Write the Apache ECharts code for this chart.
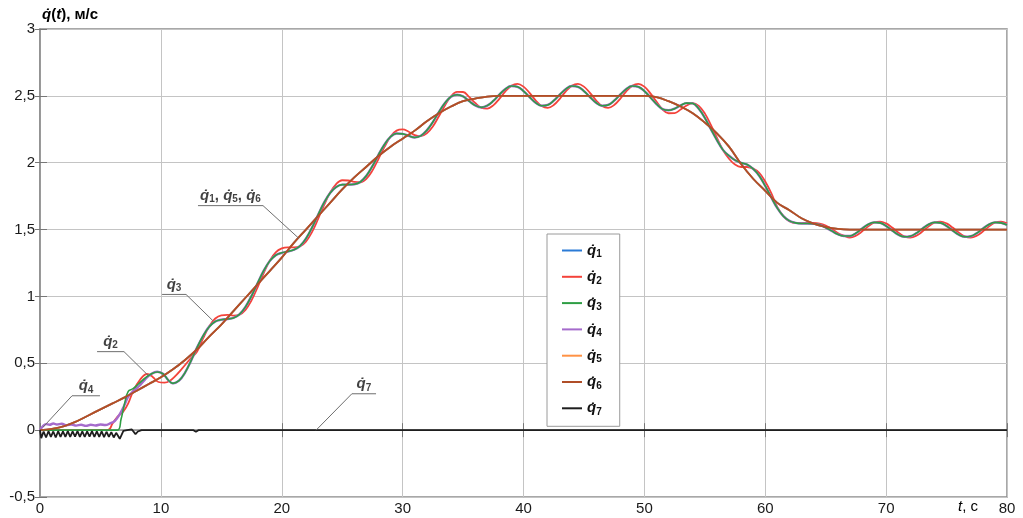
<!DOCTYPE html>
<html><head><meta charset="utf-8">
<script src="https://cdn.jsdelivr.net/npm/echarts@6/dist/echarts.min.js"></script>
<style>html,body{margin:0;padding:0;background:#fff}#c{width:1023px;height:518px}</style>
</head><body><div id="c"></div>
<script>
// ---- data (t in s, q̇ in m/s) ----
const seriesNames = ['q1','q2','q3','q4','q5','q6','q7'];
const seriesColors = ['#2b7bd6','#f4433a','#2e9e44','#a56bcc','#ff9245','#b04e28','#1e1e1e'];

// smooth reference profile q̇6 (q̇1 and q̇5 coincide with it, per the annotation)
const q6 = [[0,0],[1,0.01],[2,0.03],[3,0.065],[4,0.11],[5,0.155],[6,0.2],[7,0.245],[8,0.295],[9,0.345],[10,0.395],[11,0.455],[12,0.525],[13,0.605],[14,0.7],[15,0.79],[16,0.89],[17,0.99],[18,1.09],[19,1.19],[20,1.29],[21,1.4],[22,1.5],[23,1.6],[24,1.7],[25,1.8],[26,1.89],[27,1.97],[28,2.05],[29,2.12],[30,2.18],[31,2.24],[32,2.31],[33,2.37],[34,2.42],[35,2.46],[36,2.48],[37,2.495],[38,2.5],[50,2.5],[51,2.49],[52,2.46],[53,2.42],[54,2.37],[55,2.3],[56,2.22],[57,2.12],[58,1.99],[59,1.88],[60,1.79],[61,1.7],[62,1.645],[63,1.585],[64,1.545],[65,1.52],[66,1.505],[67,1.5],[80,1.5]];
const q1 = q6;
const q5 = q6;

// oscillating response shared by q̇3 and q̇4 after the start-up
const oscTail = [[10.2,0.42],[10.6,0.375],[11,0.35],[11.5,0.37],[12,0.43],[12.5,0.52],[13,0.619],[13.5,0.706],[14,0.774],[14.5,0.813],[15,0.826],[15.5,0.831],[16,0.839],[16.5,0.866],[17,0.922],[17.5,1.004],[18,1.099],[18.5,1.191],[19,1.264],[19.5,1.308],[20,1.326],[20.5,1.336],[21,1.349],[21.5,1.376],[22,1.432],[22.5,1.514],[23,1.609],[23.5,1.701],[24,1.774],[24.5,1.818],[25,1.836],[25.5,1.836],[26,1.839],[26.5,1.856],[27,1.902],[27.5,1.974],[28,2.059],[28.5,2.136],[29,2.194],[29.5,2.218],[30,2.216],[30.5,2.201],[31,2.189],[31.5,2.201],[32,2.242],[32.5,2.304],[33,2.379],[33.5,2.446],[34,2.494],[34.5,2.508],[35,2.496],[35.5,2.461],[36,2.429],[36.5,2.414],[37,2.427],[37.5,2.462],[38,2.509],[38.5,2.551],[39,2.574],[39.5,2.568],[40,2.536],[40.5,2.491],[41,2.449],[41.5,2.426],[42,2.432],[42.5,2.464],[43,2.509],[43.5,2.551],[44,2.574],[44.5,2.568],[45,2.536],[45.5,2.491],[46,2.449],[46.5,2.426],[47,2.432],[47.5,2.464],[48,2.509],[48.5,2.551],[49,2.574],[49.5,2.568],[50,2.536],[50.5,2.488],[51,2.439],[51.5,2.401],[52,2.392],[52.5,2.404],[53,2.429],[53.5,2.446],[54,2.444],[54.5,2.403],[55,2.336],[55.5,2.251],[56,2.169],[56.5,2.096],[57,2.052],[57.5,2.019],[58,1.999],[58.5,1.986],[59,1.954],[59.5,1.903],[60,1.826],[60.5,1.741],[61,1.66],[61.5,1.6],[62,1.565],[62.5,1.55],[63,1.545],[63.5,1.545],[64,1.543],[64.5,1.535],[65,1.515],[65.5,1.49],[66,1.465],[66.5,1.452],[67,1.452],[67.5,1.473],[68,1.507],[68.5,1.538],[69,1.554],[69.5,1.55],[70,1.527],[70.5,1.493],[71,1.462],[71.5,1.446],[72,1.45],[72.5,1.473],[73,1.507],[73.5,1.538],[74,1.554],[74.5,1.55],[75,1.527],[75.5,1.493],[76,1.462],[76.5,1.446],[77,1.45],[77.5,1.473],[78,1.507],[78.5,1.538],[79,1.554],[79.5,1.55],[80,1.535]];
const q3Head = [[0,0],[6.4,0],[6.7,0.08],[7.0,0.2],[7.3,0.29],[7.7,0.31],[8.2,0.35],[8.7,0.39],[9.2,0.42],[9.7,0.435]];
const q4Head = [[0,0],[0.25,0.03],[0.5,0.045],[0.8,0.04],[1.1,0.05],[1.4,0.042],[1.8,0.048],[2.2,0.036],[2.6,0.042],[3.0,0.034],[3.4,0.04],[3.8,0.032],[4.2,0.04],[4.6,0.035],[5.0,0.042],[5.4,0.038],[5.8,0.05],[6.2,0.07],[6.6,0.12],[7.0,0.19],[7.3,0.25],[7.7,0.29],[8.2,0.33],[8.7,0.38],[9.2,0.42],[9.7,0.437]];
const q3 = q3Head.concat(oscTail);
const q4 = q4Head.concat(oscTail);

const q2 = [[0,0],[5.6,0],[6.0,0.05],[6.4,0.1],[6.9,0.14],[7.3,0.2],[7.7,0.29],[8.3,0.38],[8.85,0.42],[9.3,0.4],[9.8,0.36],[10.3,0.355],[10.75,0.37],[11.25,0.41],[11.75,0.46],[12.4,0.53],[13,0.588],[13.5,0.688],[14,0.776],[14.5,0.835],[15,0.859],[15.5,0.862],[16,0.857],[16.5,0.864],[17,0.9],[17.5,0.971],[18,1.068],[18.5,1.173],[19,1.266],[19.5,1.33],[20,1.359],[20.5,1.367],[21,1.367],[21.5,1.374],[22,1.41],[22.5,1.481],[23,1.578],[23.5,1.683],[24,1.776],[24.5,1.84],[25,1.869],[25.5,1.867],[26,1.857],[26.5,1.854],[27,1.88],[27.5,1.941],[28,2.028],[28.5,2.118],[29,2.196],[29.5,2.24],[30,2.249],[30.5,2.232],[31,2.207],[31.5,2.199],[32,2.22],[32.5,2.271],[33,2.348],[33.5,2.428],[34,2.496],[34.5,2.53],[35,2.529],[35.5,2.492],[36,2.447],[36.5,2.412],[37,2.405],[37.5,2.429],[38,2.478],[38.5,2.533],[39,2.576],[39.5,2.59],[40,2.569],[40.5,2.522],[41,2.467],[41.5,2.424],[42,2.41],[42.5,2.431],[43,2.478],[43.5,2.533],[44,2.576],[44.5,2.59],[45,2.569],[45.5,2.522],[46,2.467],[46.5,2.424],[47,2.41],[47.5,2.431],[48,2.478],[48.5,2.533],[49,2.576],[49.5,2.59],[50,2.569],[50.5,2.519],[51,2.457],[51.5,2.399],[52,2.37],[52.5,2.371],[53,2.398],[53.5,2.428],[54,2.446],[54.5,2.425],[55,2.369],[55.5,2.282],[56,2.187],[56.5,2.094],[57,2.03],[57.5,1.986],[58,1.968],[58.5,1.968],[59,1.956],[59.5,1.925],[60,1.859],[60.5,1.772],[61,1.667],[61.5,1.6],[62,1.562],[62.5,1.548],[63,1.548],[63.5,1.55],[64,1.55],[64.5,1.545],[65,1.53],[65.5,1.505],[66,1.475],[66.5,1.455],[67,1.44],[67.5,1.454],[68,1.485],[68.5,1.522],[69,1.551],[69.5,1.56],[70,1.546],[70.5,1.515],[71,1.478],[71.5,1.449],[72,1.44],[72.5,1.454],[73,1.485],[73.5,1.522],[74,1.551],[74.5,1.56],[75,1.546],[75.5,1.515],[76,1.478],[76.5,1.449],[77,1.44],[77.5,1.454],[78,1.485],[78.5,1.522],[79,1.551],[79.5,1.56],[80,1.546]];

const q7 = [[0,0],[0.1,-0.06],[0.3,-0.01],[0.5,-0.055],[0.7,-0.008],[0.9,-0.05],[1.1,-0.01],[1.3,-0.055],[1.5,-0.008],[1.7,-0.05],[1.9,-0.01],[2.1,-0.05],[2.3,-0.008],[2.5,-0.05],[2.7,-0.01],[2.9,-0.048],[3.1,-0.008],[3.3,-0.05],[3.5,-0.01],[3.7,-0.05],[3.9,-0.01],[4.1,-0.048],[4.3,-0.008],[4.5,-0.05],[4.7,-0.01],[4.9,-0.05],[5.1,-0.01],[5.3,-0.052],[5.5,-0.012],[5.7,-0.05],[5.9,-0.015],[6.1,-0.055],[6.3,-0.02],[6.6,-0.065],[6.9,-0.005],[7.2,0],[7.6,0.005],[7.9,-0.03],[8.1,-0.01],[8.4,0],[12.7,0],[12.9,-0.012],[13.1,0],[80,0]];

// annotations: underline [tLeft, tRight, q], leader target [t, q]
const annText = ['{q|q\u0307}{s|1}{c|, }{q|q\u0307}{s|5}{c|, }{q|q\u0307}{s|6}', '{q|q\u0307}{s|3}', '{q|q\u0307}{s|2}', '{q|q\u0307}{s|4}', '{q|q\u0307}{s|7}'];
const annUnderline = [[13.07,18.45,1.679],[10.1,12.08,1.015],[4.72,6.95,0.587],[2.65,4.96,0.257],[25.8,27.8,0.272]];
const annTarget = [[21.43,1.433],[14.3,0.819],[8.94,0.41],[0.25,0.022],[22.84,0]];
const annFromRight = [true,true,true,false,false];

// ---- chart ----
const FONT = '"Liberation Sans", Arial, "DejaVu Sans", sans-serif';
const richQ = {
  q: {fontFamily: FONT, fontSize: 15, fontWeight: 'bold', fontStyle: 'italic', color: '#111', lineHeight: 18},
  s: {fontFamily: FONT, fontSize: 10, fontWeight: 'bold', color: '#111', lineHeight: 10, verticalAlign: 'bottom'},
  c: {fontFamily: FONT, fontSize: 15, fontWeight: 'bold', color: '#111', lineHeight: 18},
  n: {fontFamily: FONT, fontSize: 15, fontWeight: 'bold', color: '#111', lineHeight: 18},
  i: {fontFamily: FONT, fontSize: 15, fontWeight: 'bold', fontStyle: 'italic', color: '#111', lineHeight: 18}
};
const dataMap = {q1, q2, q3, q4, q5, q6, q7};
const drawOrder = ['q1','q5','q2','q4','q3','q6','q7'];
const widthMap = {q4: 2.4, q3: 1.6};

const series = drawOrder.map(n => {
  const idx = seriesNames.indexOf(n);
  return {
    name: n, type: 'line', data: dataMap[n], symbol: 'none', showSymbol: false,
    smooth: n === 'q7' ? false : 0.4,
    lineStyle: {color: seriesColors[idx], width: widthMap[n] || 1.8},
    itemStyle: {color: seriesColors[idx]},
    silent: true
  };
});

series.push({
  name: 'leaders', type: 'lines', coordinateSystem: 'cartesian2d', polyline: true, silent: true,
  lineStyle: {color: '#6e6e6e', width: 1, opacity: 1},
  data: annUnderline.map((u, i) => ({
    coords: annFromRight[i]
      ? [[u[0], u[2]], [u[1], u[2]], annTarget[i]]
      : [[u[1], u[2]], [u[0], u[2]], annTarget[i]]
  })),
  z: 5
});
series.push({
  name: 'annText', type: 'scatter', symbolSize: 0, silent: true,
  data: annUnderline.map((u, i) => [(u[0] + u[1]) / 2, u[2], i]),
  label: {show: true, position: 'top', distance: 1, formatter: p => annText[p.data[2]], rich: richQ},
  z: 6
});

const axisLabelStyle = {fontFamily: FONT, fontSize: 15, color: '#1a1a1a'};
const option = {
  animation: false,
  backgroundColor: '#fff',
  grid: {left: 40, right: 16, top: 29, bottom: 21, show: true, borderColor: '#8c8c8c', borderWidth: 1.5, backgroundColor: 'transparent'},
  xAxis: [{
    type: 'value', min: 0, max: 80, interval: 10,
    axisLine: {show: true, lineStyle: {color: '#8c8c8c', width: 1.5}},
    axisTick: {show: true, inside: true, length: 7, lineStyle: {color: '#777'}},
    axisLabel: Object.assign({margin: 4}, axisLabelStyle),
    splitLine: {show: true, lineStyle: {color: '#c4c4c4', width: 1}}
  }, {
    type: 'value', position: 'top', min: 0, max: 80, interval: 10,
    axisLine: {show: false}, axisLabel: {show: false}, splitLine: {show: false},
    axisTick: {show: true, inside: true, length: 7, lineStyle: {color: '#777'}}
  }],
  yAxis: [{
    type: 'value', min: -0.5, max: 3, interval: 0.5,
    axisLine: {show: true, lineStyle: {color: '#8c8c8c', width: 1.5}},
    axisTick: {show: true, inside: true, length: 7, lineStyle: {color: '#777'}},
    axisLabel: Object.assign({margin: 5, formatter: v => String(v).replace('.', ',')}, axisLabelStyle),
    splitLine: {show: true, lineStyle: {color: '#c4c4c4', width: 1}}
  }, {
    type: 'value', position: 'right', min: -0.5, max: 3, interval: 0.5,
    axisLine: {show: false}, axisLabel: {show: false}, splitLine: {show: false},
    axisTick: {show: true, inside: true, length: 5, lineStyle: {color: '#777'}}
  }],
  legend: {
    data: seriesNames, orient: 'vertical', left: 547, top: 234,
    backgroundColor: '#fff', borderColor: '#9a9a9a', borderWidth: 1,
    padding: [9, 18, 9, 15], itemWidth: 20, itemHeight: 2, itemGap: 9.8,
    icon: 'rect',
    formatter: n => '{q|q\u0307}{s|' + n.slice(1) + '}',
    textStyle: {rich: richQ}
  },
  graphic: [
    {type: 'text', left: 42, top: 7, silent: true,
     style: {text: '{q|q\u0307}{n|(}{i|t}{n|), м/с}', rich: richQ}},
    {type: 'text', left: 958, top: 499, silent: true,
     style: {text: '{i|t}{n|, с}', rich: {
       i: {fontFamily: FONT, fontSize: 15, fontStyle: 'italic', color: '#1a1a1a', lineHeight: 18},
       n: {fontFamily: FONT, fontSize: 15, color: '#1a1a1a', lineHeight: 18}}}}
  ],
  series
};
const chart = echarts.init(document.getElementById('c'));
chart.setOption(option);
</script>
</body></html>
